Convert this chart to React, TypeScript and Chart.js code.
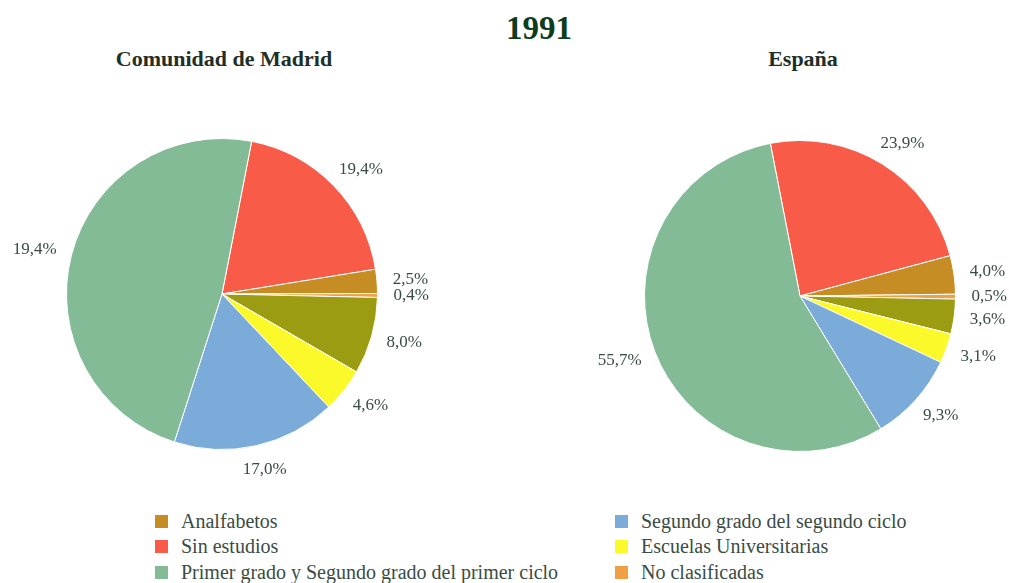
import React, { useEffect, useRef } from "react";
import { Chart, registerables } from "chart.js";

Chart.register(...registerables);

// ---- data ----
const categories = [
  "Sin estudios",
  "Analfabetos",
  "No clasificadas",
  "Facultades y Escuelas Técnicas Superiores",
  "Escuelas Universitarias",
  "Segundo grado del segundo ciclo",
  "Primer grado y Segundo grado del primer ciclo",
];
const colors = ["#f85b48", "#c68d24", "#f19f45", "#9b9c12", "#fbf92a", "#7aabd9", "#84bb97"];

const madridValues = [19.4, 2.5, 0.4, 8.0, 4.6, 17.0, 48.1];
const madridLabels = ["19,4%", "2,5%", "0,4%", "8,0%", "4,6%", "17,0%", "19,4%"];

const spainValues = [23.9, 4.0, 0.5, 3.6, 3.1, 9.3, 55.7];
const spainLabels = ["23,9%", "4,0%", "0,5%", "3,6%", "3,1%", "9,3%", "55,7%"];

const legendLeft = [
  "Analfabetos",
  "Sin estudios",
  "Primer grado y Segundo grado del primer ciclo",
];
const legendRight = [
  "Segundo grado del segundo ciclo",
  "Escuelas Universitarias",
  "No clasificadas",
];

const mainTitle = "1991";
const leftTitle = "Comunidad de Madrid";
const rightTitle = "España";

const SERIF = "'Liberation Serif', 'DejaVu Serif', serif";
const TEXT = "#3a4c44";

const outerLabels = {
  id: "outerLabels",
  afterDatasetsDraw(chart: any, _args: any, opts: any) {
    const ctx = chart.ctx;
    const meta = chart.getDatasetMeta(0);
    const texts: string[] = opts.texts || [];
    ctx.save();
    ctx.font = `17px ${SERIF}`;
    ctx.fillStyle = TEXT;
    ctx.textAlign = "center";
    ctx.textBaseline = "middle";
    meta.data.forEach((arc: any, i: number) => {
      const p = arc.getProps(["startAngle", "endAngle", "outerRadius", "x", "y"], true);
      const mid = (p.startAngle + p.endAngle) / 2;
      const t = texts[i] ?? "";
      const halfW = ctx.measureText(t).width / 2;
      const halfH = 8;
      const r = p.outerRadius + 16;
      const cx = p.x + Math.cos(mid) * r + Math.cos(mid) * halfW;
      const cy = p.y + Math.sin(mid) * r + Math.sin(mid) * halfH;
      ctx.fillText(t, cx, cy);
    });
    ctx.restore();
  },
};

function PieCanvas(props: { values: number[]; texts: string[]; rotation: number; style: React.CSSProperties }) {
  const ref = useRef<HTMLCanvasElement>(null);
  useEffect(() => {
    if (!ref.current) return;
    const chart = new Chart(ref.current, {
      type: "pie",
      data: {
        labels: categories,
        datasets: [
          {
            data: props.values,
            backgroundColor: colors,
            borderColor: "#ffffff",
            borderWidth: 1,
          },
        ],
      },
      options: {
        animation: false,
        responsive: false,
        rotation: props.rotation,
        layout: { padding: 44 },
        plugins: {
          legend: { display: false },
          tooltip: { enabled: false },
          outerLabels: { texts: props.texts },
        } as any,
      },
      plugins: [outerLabels],
    });
    return () => chart.destroy();
  }, []);
  return <canvas ref={ref} width={props.style.width as number} height={props.style.height as number} style={props.style} />;
}

function Legend({ items, sqLeft, textLeft }: { items: string[]; sqLeft: number; textLeft: number }) {
  const rows = [521, 546, 572];
  return (
    <>
      {items.map((name, i) => (
        <React.Fragment key={name}>
          <div
            style={{
              position: "absolute",
              left: sqLeft,
              top: rows[i] - 6.5,
              width: 13,
              height: 13,
              background: colors[categories.indexOf(name)],
            }}
          />
          <div
            style={{
              position: "absolute",
              left: textLeft,
              top: rows[i],
              transform: "translateY(-50%)",
              font: `20px ${SERIF}`,
              lineHeight: "20px",
              color: TEXT,
              whiteSpace: "nowrap",
            }}
          >
            {name}
          </div>
        </React.Fragment>
      ))}
    </>
  );
}

function Title({ text, x, y, size, color }: { text: string; x: number; y: number; size: number; color: string }) {
  return (
    <div
      style={{
        position: "absolute",
        left: x,
        top: y,
        transform: "translate(-50%, -50%)",
        font: `bold ${size}px ${SERIF}`,
        lineHeight: `${size}px`,
        color,
        whiteSpace: "nowrap",
      }}
    >
      {text}
    </div>
  );
}

export default function App() {
  return (
    <div
      style={{
        position: "absolute",
        left: 0,
        top: 0,
        width: 1009,
        height: 583,
        overflow: "hidden",
        background: "#ffffff",
      }}
    >
      <Title text={mainTitle} x={539} y={28} size={33} color="#0d3d1c" />
      <Title text={leftTitle} x={224} y={59} size={22} color="#1f2f28" />
      <Title text={rightTitle} x={803} y={59} size={22} color="#1f2f28" />
      <PieCanvas
        values={madridValues}
        texts={madridLabels}
        rotation={11}
        style={{ position: "absolute", left: 2, top: 94, width: 440, height: 400 }}
      />
      <PieCanvas
        values={spainValues}
        texts={spainLabels}
        rotation={-11}
        style={{ position: "absolute", left: 590, top: 96, width: 420, height: 400 }}
      />
      <Legend items={legendLeft} sqLeft={155} textLeft={181} />
      <Legend items={legendRight} sqLeft={615} textLeft={641} />
    </div>
  );
}
